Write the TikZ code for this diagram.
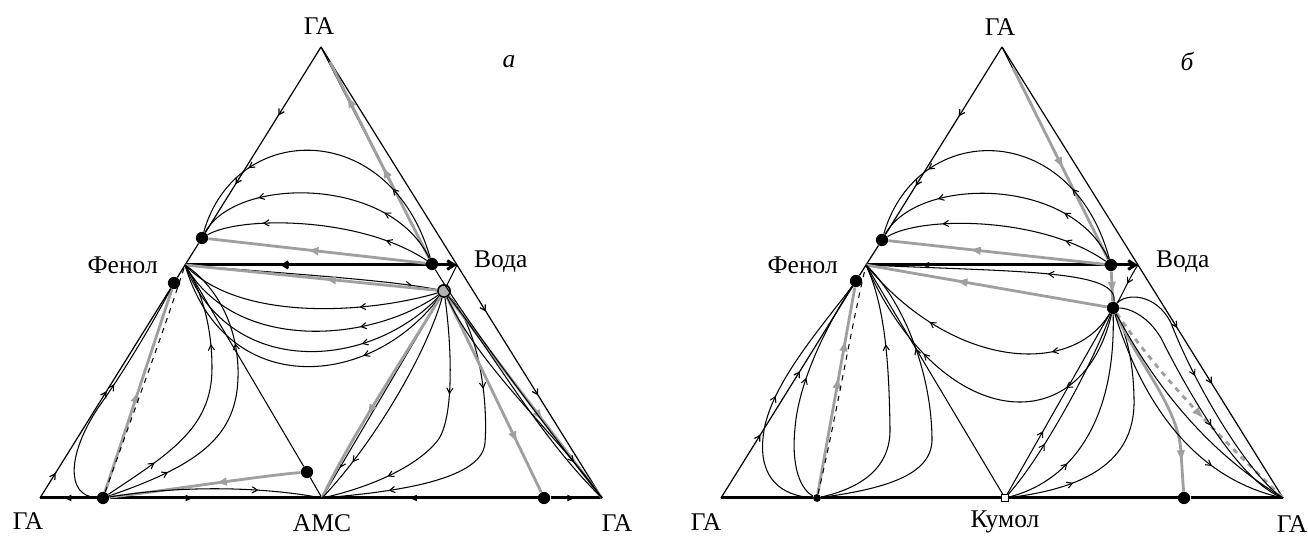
\documentclass[tikz,border=0pt]{standalone}
\usepackage{fontspec}
\setmainfont{Liberation Serif}
\usetikzlibrary{arrows.meta,decorations.markings}

\begin{document}
\begin{tikzpicture}[x=0.02cm, y=0.02cm,
    edge/.style={line width=0.7pt},
    traj/.style={line width=0.6pt},
    sep/.style={line width=1.6pt, gray!75},
    base/.style={line width=1.7pt},
    dot/.style={circle, fill=black, inner sep=0pt, minimum size=7pt},
    flow/.style={postaction={decorate, decoration={markings,
        mark=at position #1 with {\arrow{Straight Barb[length=3pt,width=3.5pt]}}}}},
    rflow/.style={postaction={decorate, decoration={markings,
        mark=at position #1 with {\arrowreversed{Straight Barb[length=3pt,width=3.5pt]}}}}},
    gflow/.style={postaction={decorate, decoration={markings,
        mark=at position #1 with {\arrow{Latex[length=7pt,width=5pt]}}}}},
    bflow/.style={postaction={decorate, decoration={markings,
        mark=at position #1 with {\arrow{Latex[length=5pt,width=4pt]}}}}},
    lbl/.style={font=\fontsize{14.5}{16}\selectfont}
]
\useasboundingbox (0,0) rectangle (1308,536);
\fill[white] (0,0) rectangle (1308,536);

% ============================
% a: phenol - water - AMS
% ============================
\begin{scope}[shift={(40,38)}]
    % Corners and pure components
    \coordinate (topA)  at (281,451);
    \coordinate (blA)   at (0,0);
    \coordinate (brA)   at (562,0);
    \coordinate (fenA)  at (145,233);
    \coordinate (vodaA) at (417,233);
    \coordinate (amsA)  at (282,0);
    \coordinate (tipA)  at (290,436);
    % Azeotropes
    \node[dot] (upA)  at (162,260) {};
    \node[dot] (lowA) at (134,215) {};
    \node[dot] (wA)   at (392,234) {};
    \node[dot, fill=gray!60, draw=black, line width=0.9pt] (sA) at (404,207) {};
    \node[dot] (mA)   at (267,26) {};
    \node[dot] (lA)   at (63,0) {};
    \node[dot] (rA)   at (504,0) {};
    % Labels
    \node[lbl] (gaTopA)   at (279,472) {ГА};
    \node[lbl] (gaLeftA)  at (-12,-23) {ГА};
    \node[lbl] (amsLblA)  at (282,-25) {АМС};
    \node[lbl] (gaRightA) at (577,-25) {ГА};
    \node[lbl] (tagA)     at (469,436) {\itshape а};
    \node[lbl, anchor=east] (fenLblA)  at (124,233) {Фенол};
    \node[lbl, anchor=west] (vodaLblA) at (428,236) {Вода};
    % Outer edges
    \draw[edge, flow=0.37, flow=0.74] (topA) -- (upA);
    \draw[edge] (upA) -- (fenA) -- (lowA);
    \draw[edge, flow=0.12, flow=0.51] (blA) -- (lowA);
    \draw[edge] (topA) -- (vodaA);
    \draw[edge, flow=0.2, flow=0.56] (vodaA) -- (brA);
    \draw[base, bflow=0.6] (lA) -- (blA);
    \draw[base, bflow=0.4] (lA) -- (amsA);
    \draw[base, bflow=0.6] (rA) -- (amsA);
    \draw[base, bflow=0.5] (rA) -- (brA);
    \draw[base, -{Straight Barb[length=4pt,width=5pt]}, rflow=0.35] (fenA) -- (vodaA);
    % Upper face
    \draw[traj] (wA) -- (topA);
    \draw[sep, gflow=0.47, gflow=0.83] (wA) -- (tipA);
    \draw[traj, flow=0.25, flow=0.75] (wA) .. controls (350,380) and (196,378) .. (upA);
    \draw[traj, flow=0.25, flow=0.75] (wA) .. controls (350,322) and (196,322) .. (upA);
    \draw[traj, flow=0.2, flow=0.75] (wA) .. controls (320,282) and (200,282) .. (upA);
    \draw[sep, gflow=0.55] (wA) -- (upA);
    % Inner face
    \draw[traj, flow=0.9] (fenA) .. controls (250,224) and (350,218) .. (sA);
    \draw[sep, gflow=0.45] (sA) -- (fenA);
    \draw[traj, flow=0.3] (sA) .. controls (330,185) and (200,175) .. (fenA);
    \draw[traj, flow=0.3] (sA) .. controls (330,155) and (195,145) .. (fenA);
    \draw[traj, flow=0.3] (sA) .. controls (330,128) and (190,118) .. (fenA);
    \draw[traj, flow=0.3] (sA) .. controls (330,108) and (185,98) .. (fenA);
    \draw[traj] (fenA) -- (mA);
    \draw[traj] (mA) -- (amsA);
    \draw[traj] (vodaA) -- (sA);
    \draw[traj, flow=0.85] (sA) -- (amsA);
    \draw[sep, gflow=0.6] (sA) .. controls (370,150) and (310,60) .. (amsA);
    \draw[traj, flow=0.8] (sA) .. controls (385,140) and (330,50) .. (amsA);
    \draw[traj, flow=0.35, flow=0.75] (sA) .. controls (412,150) and (414,80) .. (398,58)
        .. controls (375,28) and (320,8) .. (amsA);
    \draw[traj, flow=0.3, flow=0.8] (sA) .. controls (440,170) and (448,95) .. (445,55)
        .. controls (442,15) and (340,5) .. (amsA);
    % Right face
    \draw[sep, gflow=0.75] (sA) -- (rA);
    \draw[sep, gflow=0.62] (sA) -- (brA);
    \draw[traj] (sA) .. controls (450,150) and (500,60) .. (brA);
    \draw[traj, flow=0.82] (sA) .. controls (440,130) and (520,60) .. (brA);
    \draw[traj] (wA) .. controls (430,170) and (530,40) .. (brA);
    % Left face
    \draw[sep, gflow=0.5] (lA) -- (lowA);
    \draw[traj, dashed] (lA) .. controls (95,90) and (125,170) .. (fenA);
    \draw[traj, flow=0.55] (lA) .. controls (25,2) and (28,45) .. (58,90)
        .. controls (90,135) and (118,185) .. (lowA);
    \draw[traj, flow=0.2, flow=0.7] (lA) .. controls (130,45) and (172,70) .. (172,130)
        .. controls (172,175) and (160,210) .. (fenA);
    \draw[traj, flow=0.2, flow=0.7] (lA) .. controls (165,35) and (200,65) .. (198,130)
        .. controls (196,180) and (172,215) .. (fenA);
    \draw[sep, gflow=0.45] (mA) .. controls (220,22) and (130,8) .. (lA);
    \draw[traj, flow=0.7] (lA) .. controls (150,14) and (230,10) .. (amsA);
\end{scope}

% ============================
% b: phenol - water - cumene
% ============================
\begin{scope}[shift={(721,38)}]
    % Corners and pure components
    \coordinate (topB)  at (281,451);
    \coordinate (blB)   at (0,0);
    \coordinate (brB)   at (562,0);
    \coordinate (fenB)  at (145,233);
    \coordinate (vodaB) at (417,233);
    \coordinate (tipB)  at (292,430);
    % Azeotropes
    \node[dot] (upB)  at (161,258) {};
    \node[dot] (lowB) at (135,217) {};
    \node[dot] (wB)   at (390,233) {};
    \node[dot] (sB)   at (392,190) {};
    \node[dot, minimum size=4.5pt] (lB) at (96,0) {};
    \node[dot] (rB)   at (463,0) {};
    \node[draw, fill=white, inner sep=0pt, minimum size=3.5pt, line width=0.6pt] (kumB) at (284,0) {};
    % Labels
    \node[lbl] (gaTopB)   at (279,471) {ГА};
    \node[lbl] (gaLeftB)  at (-15,-24) {ГА};
    \node[lbl] (kumLblB)  at (284,-24) {Кумол};
    \node[lbl] (gaRightB) at (571,-26) {ГА};
    \node[lbl] (tagB)     at (466,436) {\itshape б};
    \node[lbl, anchor=east] (fenLblB)  at (123,233) {Фенол};
    \node[lbl, anchor=west] (vodaLblB) at (429,236) {Вода};
    % Outer edges
    \draw[edge, flow=0.37, flow=0.74] (topB) -- (upB);
    \draw[edge] (upB) -- (fenB) -- (lowB);
    \draw[edge, flow=0.3, flow=0.6] (blB) -- (lowB);
    \draw[edge] (topB) -- (vodaB);
    \draw[edge, flow=0.27, flow=0.51] (vodaB) -- (brB);
    \draw[base] (blB) -- (lB);
    \draw[base] (lB) -- (kumB);
    \draw[base] (kumB) -- (rB);
    \draw[base] (rB) -- (brB);
    \draw[base, -{Straight Barb[length=4pt,width=5pt]},
        postaction={decorate, decoration={markings, mark=at position 0.2 with
        {\arrowreversed[fill=white, line width=0.5pt]{Latex[open, length=5pt, width=3.5pt]}}}}]
        (fenB) -- (vodaB);
    % Upper face
    \draw[traj] (topB) -- (wB);
    \draw[sep, gflow=0.53] (tipB) -- (wB);
    \draw[sep, gflow=0.75] (wB) -- (sB);
    \draw[traj, flow=0.25, flow=0.75] (wB) .. controls (350,380) and (196,378) .. (upB);
    \draw[traj, flow=0.25, flow=0.75] (wB) .. controls (350,322) and (196,322) .. (upB);
    \draw[traj, flow=0.2, flow=0.75] (wB) .. controls (320,282) and (200,282) .. (upB);
    \draw[sep, gflow=0.63] (wB) -- (upB);
    % Inner face
    \draw[traj, flow=0.3] (sB) .. controls (398,228) and (300,226) .. (fenB);
    \draw[sep, gflow=0.63] (sB) -- (fenB);
    \draw[traj, flow=0.25, flow=0.7] (sB) .. controls (350,120) and (230,130) .. (fenB);
    \draw[traj, flow=0.25, flow=0.7] (sB) .. controls (360,55) and (220,65) .. (fenB);
    \draw[traj] (fenB) -- (kumB);
    \draw[traj, flow=0.35] (kumB) -- (sB);
    \draw[traj, flow=0.3] (kumB) .. controls (320,40) and (370,130) .. (sB);
    \draw[traj, flow=0.3] (kumB) .. controls (345,15) and (395,70) .. (sB);
    \draw[traj, flow=0.25] (kumB) .. controls (370,10) and (415,40) .. (413,100)
        .. controls (412,150) and (400,175) .. (sB);
    \draw[traj, flow=0.5] (vodaB) .. controls (408,220) and (400,200) .. (sB);
    % Right face
    \draw[sep, gflow=0.85] (sB) .. controls (420,130) and (458,90) .. (460,45) -- (rB);
    \draw[sep, dashed, gflow=0.55] (sB) .. controls (440,120) and (500,60) .. (brB);
    \draw[traj] (sB) .. controls (430,120) and (480,50) .. (brB);
    \draw[traj, flow=0.7] (sB) .. controls (420,100) and (470,20) .. (brB);
    \draw[traj, flow=0.45] (sB) .. controls (405,205) and (435,205) .. (450,175)
        .. controls (475,110) and (530,20) .. (brB);
    \draw[traj, flow=0.6] (sB) .. controls (405,190) and (425,185) .. (440,160)
        .. controls (470,100) and (520,15) .. (brB);
    % Left face
    \draw[sep, gflow=0.57, gflow=0.75] (lB) -- (lowB);
    \draw[traj, dashed] (lB) .. controls (115,80) and (130,170) .. (fenB);
    \draw[traj, flow=0.5] (lB) .. controls (60,2) and (38,20) .. (42,60)
        .. controls (46,110) and (100,170) .. (lowB);
    \draw[traj, flow=0.55] (lB) .. controls (80,8) and (70,30) .. (74,70)
        .. controls (78,120) and (110,180) .. (lowB);
    \draw[traj, flow=0.7] (lB) .. controls (140,10) and (170,30) .. (169,70)
        .. controls (168,130) and (165,190) .. (fenB);
    \draw[traj, flow=0.7] (lB) .. controls (170,10) and (212,25) .. (211,60)
        .. controls (210,130) and (180,200) .. (fenB);
\end{scope}

\end{tikzpicture}
\end{document}
